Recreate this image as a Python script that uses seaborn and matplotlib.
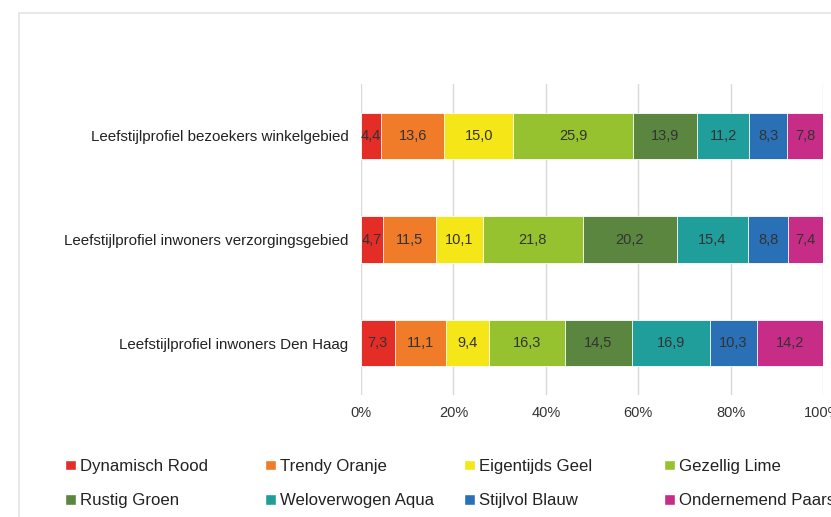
import numpy as np
import matplotlib
matplotlib.use("Agg")
import matplotlib.pyplot as plt
import seaborn as sns
from matplotlib.patches import Patch, Rectangle

# data
profiles = ["Leefstijlprofiel bezoekers winkelgebied",
            "Leefstijlprofiel inwoners verzorgingsgebied",
            "Leefstijlprofiel inwoners Den Haag"]
segments = ["Dynamisch Rood", "Trendy Oranje", "Eigentijds Geel", "Gezellig Lime",
            "Rustig Groen", "Weloverwogen Aqua", "Stijlvol Blauw", "Ondernemend Paars"]
rood = [4.4, 4.7, 7.3]
oranje = [13.6, 11.5, 11.1]
geel = [15.0, 10.1, 9.4]
lime = [25.9, 21.8, 16.3]
groen = [13.9, 20.2, 14.5]
aqua = [11.2, 15.4, 16.9]
blauw = [8.3, 8.8, 10.3]
paars = [7.8, 7.4, 14.2]
xticks = [0, 20, 40, 60, 80, 100]

colors = ["#E42D27", "#F07C2A", "#F4E617", "#96C22F",
          "#5B8640", "#1F9E9B", "#2A70B6", "#C72D87"]

sns.set_theme(style="white")
plt.rcParams["font.family"] = ["Liberation Sans", "DejaVu Sans"]

values = np.array([rood, oranje, geel, lime, groen, aqua, blauw, paars])
cum = np.cumsum(values, axis=0)

fig = plt.figure(figsize=(8.31, 5.17), dpi=100)
ax = fig.add_axes([361 / 831, 122 / 517, 462 / 831, 311 / 517])

for v in xticks:
    ax.axvline(v, color="#d9d9d9", lw=1, zorder=0)

# stacked bars: draw cumulative totals from the longest to the shortest
for i in range(len(segments) - 1, -1, -1):
    sns.barplot(x=cum[i], y=profiles, orient="h", color=colors[i],
                width=0.45, edgecolor="white", linewidth=0.6,
                saturation=1, ax=ax, zorder=2)

for i in range(len(segments)):
    for j in range(len(profiles)):
        mid = cum[i, j] - values[i, j] / 2
        ax.text(mid, j, f"{values[i, j]:.1f}".replace(".", ","),
                ha="center", va="center", fontsize=10.5, color="#333333", zorder=3)

ax.set_xlim(0, 100)
ax.set_ylim(2.5, -0.5)
ax.set_xticks(xticks)
ax.set_xticklabels([f"{v}%" for v in xticks], fontsize=10.5, color="#333333")
ax.tick_params(axis="y", labelsize=10.9, labelcolor="#222222", pad=9, length=0)
ax.tick_params(axis="x", pad=8, length=0)
ax.set_xlabel("")
ax.set_ylabel("")
for s in ax.spines.values():
    s.set_visible(False)

# outer frame (partially cropped in the reference)
fig.add_artist(Rectangle((19 / 831, -0.1), 1.2, 0.1 + 1 - 13 / 517,
                         transform=fig.transFigure, fill=False,
                         edgecolor="#e3e3e3", lw=1.2))

# legend: four columns of two entries
col_x = [65, 265, 464, 664]
for c in range(4):
    handles = [Patch(facecolor=colors[c], label=segments[c]),
               Patch(facecolor=colors[c + 4], label=segments[c + 4])]
    lg = fig.legend(handles=handles, loc="upper left",
                    bbox_to_anchor=(col_x[c] / 831, 1 - 459 / 517),
                    frameon=False, fontsize=12.1, handlelength=0.65, handleheight=0.6,
                    handletextpad=0.25, labelspacing=1.15, borderpad=0,
                    borderaxespad=0)
    for t in lg.get_texts():
        t.set_color("#222222")

fig.savefig("out.png", dpi=100)
